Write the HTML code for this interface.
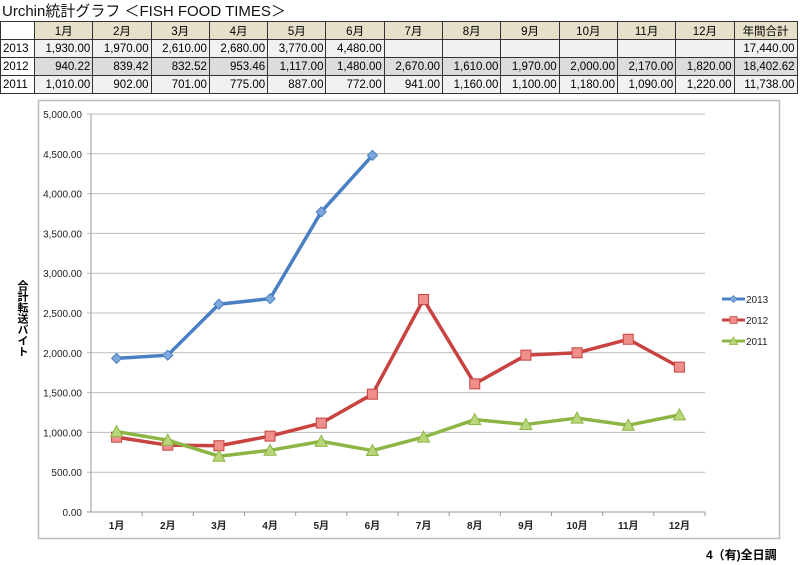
<!DOCTYPE html>
<html><head><meta charset="utf-8"><style>
body{margin:0;width:800px;height:565px;background:#fff;position:relative;font-family:"Liberation Sans","Noto Sans CJK JP",sans-serif;overflow:hidden}
#title{position:absolute;left:2px;top:0px;font-size:15px;color:#111}
table{position:absolute;left:0;top:21px;border-collapse:collapse;font-size:11.5px;table-layout:fixed;width:797px}
td{border:1px solid #333;height:17px;padding:0 2px;text-align:right;overflow:hidden;white-space:nowrap}
td.y{text-align:left;background:#fff}
tr.h td{background:#e6dfc9;text-align:center}
tr.r1 td,tr.r3 td{background:#f1f1f1}
tr.r2 td{background:#dcdcdc}
tr td.y{background:#fff}
#foot{position:absolute;left:706px;top:546px;font-size:12px;font-weight:bold}
</style></head><body>
<div id="title">Urchin統計グラフ ＜FISH FOOD TIMES＞</div>
<table>
<colgroup><col style="width:34px"><col span="12" style="width:58.3px"><col style="width:63px"></colgroup>
<tr class="h"><td class="y"></td><td>1月</td><td>2月</td><td>3月</td><td>4月</td><td>5月</td><td>6月</td><td>7月</td><td>8月</td><td>9月</td><td>10月</td><td>11月</td><td>12月</td><td>年間合計</td></tr>
<tr class="r1"><td class="y">2013</td><td>1,930.00</td><td>1,970.00</td><td>2,610.00</td><td>2,680.00</td><td>3,770.00</td><td>4,480.00</td><td></td><td></td><td></td><td></td><td></td><td></td><td>17,440.00</td></tr>
<tr class="r2"><td class="y">2012</td><td>940.22</td><td>839.42</td><td>832.52</td><td>953.46</td><td>1,117.00</td><td>1,480.00</td><td>2,670.00</td><td>1,610.00</td><td>1,970.00</td><td>2,000.00</td><td>2,170.00</td><td>1,820.00</td><td>18,402.62</td></tr>
<tr class="r3"><td class="y">2011</td><td>1,010.00</td><td>902.00</td><td>701.00</td><td>775.00</td><td>887.00</td><td>772.00</td><td>941.00</td><td>1,160.00</td><td>1,100.00</td><td>1,180.00</td><td>1,090.00</td><td>1,220.00</td><td>11,738.00</td></tr>
</table>
<svg id="chart" width="800" height="565" style="position:absolute;left:0;top:0">
<rect x="38.5" y="100.5" width="741" height="438" fill="none" stroke="#bbb" stroke-width="1.5"/>
<text x="22" y="280" font-size="11" font-weight="bold" style="writing-mode:vertical-rl">合計転送バイト</text>
</svg>
<div id="foot">4（有)全日調</div>
<script>
const categories=["1月","2月","3月","4月","5月","6月","7月","8月","9月","10月","11月","12月"];
const s2013=[1930,1970,2610,2680,3770,4480,null,null,null,null,null,null];
const s2012=[940.22,839.42,832.52,953.46,1117,1480,2670,1610,1970,2000,2170,1820];
const s2011=[1010,902,701,775,887,772,941,1160,1100,1180,1090,1220];
const yTicks=[0,500,1000,1500,2000,2500,3000,3500,4000,4500,5000];
const seriesNames=["2013","2012","2011"];
const NS="http://www.w3.org/2000/svg";
const svg=document.getElementById('chart');
const X0=91,X1=705,Y0=512,Y1=114,YMAX=5000;
const step=(X1-X0)/categories.length;
function xs(i){return X0+step*(i+0.5);}
function ys(v){return Y0-(v/YMAX)*(Y0-Y1);}
function mk(t,a){const e=document.createElementNS(NS,t);for(const k in a)e.setAttribute(k,a[k]);svg.appendChild(e);return e;}
yTicks.forEach(v=>{
 const y=ys(v);
 const g=mk('line',{x1:X0-4,x2:X1,y1:y,y2:y,stroke:v===0?'#999':'#bbb','stroke-width':1});
 
 
 const t=mk('text',{x:X0-9,y:y+4,'font-size':10,'text-anchor':'end',fill:'#222'});
 t.textContent=v.toLocaleString('en-US',{minimumFractionDigits:2});
 
 
});
const ax=mk('line',{x1:X0,x2:X0,y1:Y1,y2:Y0,stroke:'#999'});


categories.forEach((c,i)=>{
 const tk=mk('line',{x1:X0+step*(i+1),x2:X0+step*(i+1),y1:Y0,y2:Y0+4,stroke:'#999'});
 
 
 const t=mk('text',{x:xs(i),y:Y0+17,'font-size':10,'font-weight':'bold','text-anchor':'middle',fill:'#222'});
 t.textContent=c;
 
 
});
function marker(type,x,y,col,fill){
 let e;
 if(type==='d')e=mk('polygon',{points:`${x},${y-5} ${x+5},${y} ${x},${y+5} ${x-5},${y}`,fill:fill,stroke:col});
 else if(type==='s')e=mk('rect',{x:x-5,y:y-5,width:10,height:10,fill:fill,stroke:col});
 else e=mk('polygon',{points:`${x},${y-6} ${x+6},${y+5} ${x-6},${y+5}`,fill:fill,stroke:col});
 return e;
}
const cfg=[[s2013,'#4a7fc4','#7fa8dc','d'],[s2012,'#c8423f','#ee8f8c','s'],[s2011,'#8db544','#b9d77a','t']];
cfg.forEach((c,si)=>{
 const [data,col,fill,m]=c;
 const pts=[];data.forEach((v,i)=>{if(v!==null)pts.push([xs(i),ys(v)]);});
 const pl=mk('polyline',{points:pts.map(p=>p.join(',')).join(' '),fill:'none',stroke:col,'stroke-width':3.5,'stroke-linejoin':'round'});
 
 
 pts.forEach(p=>{const e=marker(m,p[0],p[1],col,fill);
  
  });
 const ly=299+si*21;
 const ll=mk('line',{x1:722,x2:745,y1:ly,y2:ly,stroke:col,'stroke-width':3});
 
 
 const lm=marker(m,733.5,ly,col,fill);
 lm.setAttribute('transform',`translate(${733.5*0.3},${ly*0.3}) scale(0.7)`);
 
 
 const lt=mk('text',{x:746,y:ly+4,'font-size':10,fill:'#222'});
 lt.textContent=seriesNames[si];
 
 
});
</script>
</body></html>
